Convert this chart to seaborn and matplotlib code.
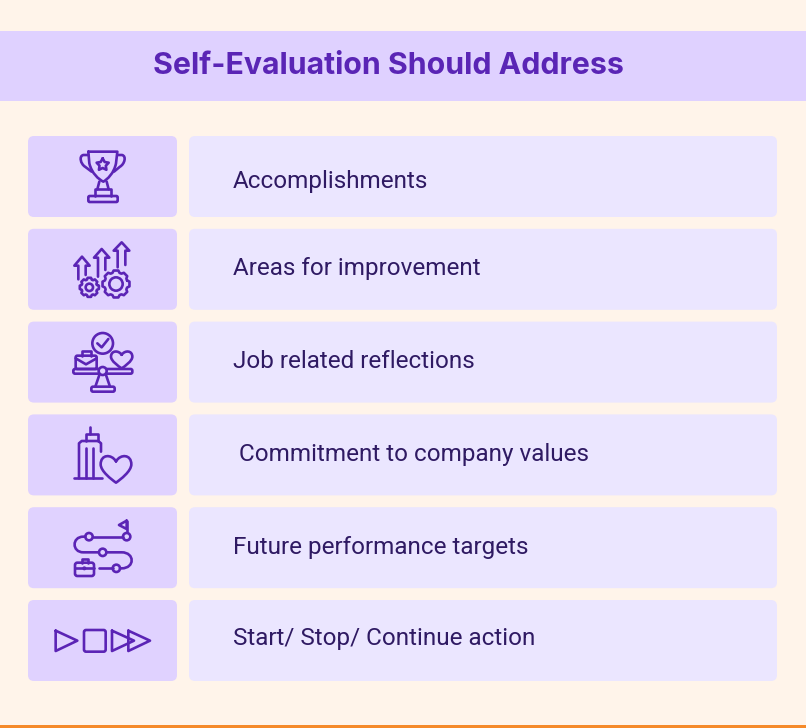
import numpy as np
import pandas as pd
import matplotlib
matplotlib.use("Agg")
import matplotlib.pyplot as plt
import seaborn as sns
from matplotlib.patches import Circle, FancyBboxPatch, PathPatch, Rectangle
from matplotlib.path import Path

# chart content
title = "Self-Evaluation Should Address"
labels = [
    "Accomplishments",
    "Areas for improvement",
    "Job related reflections",
    " Commitment to company values",
    "Future performance targets",
    "Start/ Stop/ Continue action",
]
panel_width = [588, 588, 588, 588, 588, 588]
icon_width = [149, 149, 149, 149, 149, 149]

BG = "#FFF4EA"
HEADER = "#DFD1FF"
ICON_BOX = "#E0D2FF"
TEXT_BOX = "#EBE6FF"
PURPLE = "#5B24B5"
DARK = "#2F1A63"
ORANGE = "#F58A2A"

W, H = 806, 728
ROW_TOP = 176.5   # centre of first row in px
ROW_STEP = 92.8

sns.set_theme(style="white", rc={"figure.facecolor": BG, "axes.facecolor": "none"})
plt.rcParams["font.family"] = ["Roboto", "DejaVu Sans"]

fig = plt.figure(figsize=(W / 100, H / 100), dpi=100)

def make_row_axes(left, width):
    ax = fig.add_axes([left / W, 0, width / W, 1])
    ax.set_ylim((H - ROW_TOP) / ROW_STEP, -ROW_TOP / ROW_STEP)
    return ax

def draw_rows(ax, values, color):
    df = pd.DataFrame({"label": labels, "value": values})
    sns.barplot(data=df, x="value", y="label", color=color, width=81 / ROW_STEP, ax=ax, orient="y")
    ax.set_xlim(0, values[0])
    ax.set_ylim((H - ROW_TOP) / ROW_STEP, -ROW_TOP / ROW_STEP)
    ax.axis("off")
    # swap the square bars for rounded ones
    for bar in list(ax.patches):
        x, y = bar.get_x(), bar.get_y()
        w, h = bar.get_width(), bar.get_height()
        bar.set_visible(False)
        ax.add_patch(FancyBboxPatch((x, y), w, h, boxstyle="round,pad=0,rounding_size=6",
                                    mutation_aspect=1 / ROW_STEP, fc=color, ec="none"))

# overlay in pixel coordinates for the header and the line icons
ov = fig.add_axes([0, 0, 1, 1], zorder=5)
ov.set_xlim(0, W)
ov.set_ylim(H, 0)
ov.axis("off")

ax_icon = make_row_axes(28, 149)
ax_text = make_row_axes(189, 588)
draw_rows(ax_icon, icon_width, ICON_BOX)
draw_rows(ax_text, panel_width, TEXT_BOX)

ov.add_patch(Rectangle((0, 30.5), W, 70, fc=HEADER, ec="none"))
ov.add_patch(Rectangle((0, 725), W, 3, fc=ORANGE, ec="none"))
ov.text(388.5, 66.5, title, ha="center", va="center", fontsize=21.8, fontweight="bold",
        color="#5A25B5", family=["Inter", "DejaVu Sans"])

text_shift = [5, -0.5, -0.5, -0.5, -0.5, -1.5]
for i, lab in enumerate(labels):
    ax_text.text(44, i + text_shift[i] / ROW_STEP, lab, ha="left", va="center",
                 fontsize=17.5, color=DARK)

# icon helpers, coordinates are in 3x crop units
LW = 1.9
STYLE = dict(fc="none", ec=PURPLE, lw=LW, capstyle="round", joinstyle="round")

def to_px(pts, origin):
    return [(origin[0] + x / 3, origin[1] + y / 3) for x, y in pts]

def line(pts, origin, closed=False):
    p = to_px(pts, origin)
    if closed:
        p = p + [p[0]]
    ov.add_patch(PathPatch(Path(p), **STYLE))

def curve(verts, codes, origin):
    ov.add_patch(PathPatch(Path(to_px(verts, origin), codes), **STYLE))

def circle(x, y, r, origin, lw=LW, fc="none"):
    cx, cy = to_px([(x, y)], origin)[0]
    ov.add_patch(Circle((cx, cy), r / 3, fc=fc, ec=PURPLE, lw=lw))

def rbox(x0, y0, x1, y1, origin, r=6):
    (px, py) = to_px([(x0, y0)], origin)[0]
    ov.add_patch(FancyBboxPatch((px, py), (x1 - x0) / 3, (y1 - y0) / 3,
                                boxstyle=f"round,pad=0,rounding_size={r / 3}", **STYLE))

def heart(cx, top, w, bottom, origin):
    h = bottom - top
    hw = w / 2
    M, C = Path.MOVETO, Path.CURVE4
    v = [(cx, top + h * 0.22),
         (cx - hw * 0.3, top - h * 0.06), (cx - hw, top - h * 0.04), (cx - hw, top + h * 0.33),
         (cx - hw, top + h * 0.58), (cx - hw * 0.3, bottom - h * 0.12), (cx, bottom),
         (cx + hw * 0.3, bottom - h * 0.12), (cx + hw, top + h * 0.58), (cx + hw, top + h * 0.33),
         (cx + hw, top - h * 0.04), (cx + hw * 0.3, top - h * 0.06), (cx, top + h * 0.22)]
    curve(v, [M] + [C] * 12, origin)

def gear(cx, cy, r_out, r_in, teeth, origin):
    pts = []
    step = 2 * np.pi / teeth
    for k in range(teeth):
        a = k * step
        for da, r in [(-0.30, r_in), (-0.17, r_out), (0.17, r_out), (0.30, r_in)]:
            pts.append((cx + r * np.cos(a + da * step * 1.3), cy + r * np.sin(a + da * step * 1.3)))
    line(pts, origin, closed=True)

M, C, L = Path.MOVETO, Path.CURVE4, Path.LINETO

# trophy
o = (20, 130)
curve([(205, 65), (292, 65), (288, 100), (282, 130), (262, 148), (250, 155),
       (236, 148), (215, 130), (208, 100), (205, 65)],
      [M, L, L, C, C, C, C, C, C, L], o)
curve([(205, 75), (190, 75), (176, 78), (182, 102), (195, 110), (215, 125)],
      [M, L, C, C, C, L], o)
curve([(292, 75), (306, 75), (320, 78), (314, 102), (300, 110), (282, 125)],
      [M, L, C, C, C, L], o)
line([(238, 155), (232, 178)], o)
line([(260, 155), (266, 178)], o)
line([(225, 198), (225, 178), (272, 178), (272, 198)], o)
rbox(205, 198, 293, 216, o, r=4)
star = []
for k in range(10):
    r = 19 if k % 2 == 0 else 10
    a = -np.pi / 2 + k * np.pi / 5
    star.append((248 + r * np.cos(a), 104 + r * np.sin(a)))
line(star, o, closed=True)

# arrows and gears
line([(175, 448), (175, 407), (163, 407), (186, 380), (209, 407), (197, 407), (197, 435)], o)
line([(234, 440), (234, 383), (222, 383), (245, 357), (268, 383), (256, 383), (256, 420)], o)
line([(293, 412), (293, 362), (281, 362), (305, 337), (328, 362), (316, 362), (316, 405)], o)
gear(208, 472, 29, 24, 8, o)
circle(208, 472, 11, o)
gear(288, 462, 41, 35, 8, o)
circle(288, 462, 20, o)

# balance scale
o = (20, 315)
circle(248, 85, 31, o)
line([(232, 85), (245, 97), (265, 72)], o)
rbox(167, 122, 230, 162, o, r=5)
line([(185, 122), (185, 108), (212, 108), (212, 122)], o)
line([(167, 130), (198, 148), (230, 130)], o)
heart(305, 108, 64, 160, o)
rbox(160, 162, 337, 176, o, r=5)
circle(248, 168, 12, o, fc=ICON_BOX)
line([(238, 180), (226, 215)], o)
line([(258, 180), (270, 215)], o)
rbox(214, 215, 284, 230, o, r=5)

# building and heart
line([(211, 335), (211, 358)], o)
line([(197, 378), (197, 358), (233, 358), (233, 378)], o)
line([(243, 410), (243, 385), (235, 378), (185, 378), (177, 385), (177, 490)], o)
line([(197, 400), (197, 490)], o)
line([(218, 400), (218, 490)], o)
line([(162, 490), (247, 490)], o)
heart(288, 421, 92, 503, o)

# roadmap
o = (20, 500)
line([(320, 62), (297, 75), (320, 87)], o, closed=True)
line([(320, 62), (320, 97)], o)
circle(320, 110, 11, o)
circle(207, 110, 11, o)
line([(218, 110), (309, 110)], o)
curve([(196, 110), (190, 110), (155, 110), (155, 157), (190, 157), (236, 157)],
      [M, L, C, C, C, L], o)
circle(248, 157, 11, o)
curve([(260, 157), (305, 157), (345, 157), (345, 205), (305, 205), (300, 205)],
      [M, L, C, C, C, L], o)
circle(289, 205, 11, o)
line([(238, 205), (278, 205)], o)
rbox(165, 188, 222, 228, o, r=7)
line([(185, 188), (185, 176), (205, 176), (205, 188)], o)
line([(165, 205), (222, 205)], o)
circle(193, 205, 2, o, fc=PURPLE)

# start / stop / continue
line([(107, 392), (107, 453), (172, 422)], o, closed=True)
rbox(192, 390, 257, 455, o, r=6)
line([(276, 392), (276, 453), (342, 422)], o, closed=True)
line([(325, 392), (325, 453), (390, 422)], o, closed=True)

fig.savefig("out.png", dpi=100, facecolor=BG)
